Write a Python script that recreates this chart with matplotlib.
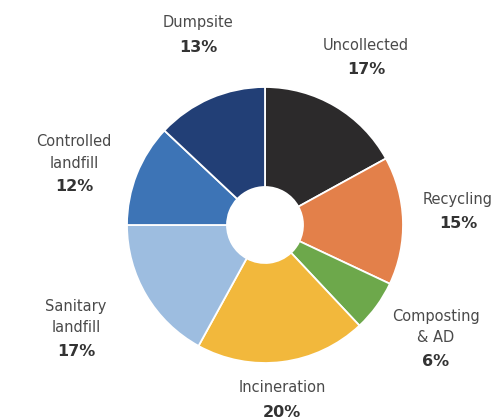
import matplotlib
matplotlib.use("Agg")
import matplotlib.pyplot as plt

# Waste treatment and disposal shares (%)
categories = ["Uncollected", "Recycling", "Composting\n& AD", "Incineration",
              "Sanitary\nlandfill", "Controlled\nlandfill", "Dumpsite"]
shares = [17, 15, 6, 20, 17, 12, 13]
colors = ["#2c2a2b", "#e3804a", "#6da84b", "#f2b83c",
          "#9dbde0", "#3d74b6", "#223f76"]

# Label anchor points in pixel space (x, y from the top), name above value
label_pos = [(366, 45), (458, 200), (436, 317), (282, 388),
             (76, 307), (74, 142), (198, 23)]

W, H = 504, 419
fig = plt.figure(figsize=(W / 100, H / 100), dpi=100)
ax = fig.add_axes([0, 0, 1, 1])

cx, cy, r_out, r_in = 265, H - 225, 138, 38
ax.pie(shares, colors=colors, startangle=90, counterclock=False,
       center=(cx, cy), radius=r_out, frame=True,
       wedgeprops=dict(width=r_out - r_in, edgecolor="white", linewidth=1.3))

ax.set_xlim(0, W)
ax.set_ylim(0, H)
ax.set_aspect("equal")
ax.axis("off")

font = "DejaVu Sans"
name_gap, pct_gap = 21, 24
for name, val, (x, y) in zip(categories, shares, label_pos):
    lines = name.split("\n")
    for i, ln in enumerate(lines):
        ax.text(x, H - (y + i * name_gap), ln, ha="center", va="center",
                fontsize=10.5, color="#4a4a4a", family=font)
    py = y + (len(lines) - 1) * name_gap + pct_gap
    ax.text(x, H - py, f"{val}%", ha="center", va="center",
            fontsize=11.5, fontweight="bold", color="#333333", family=font)

fig.savefig("out.png", dpi=100, facecolor="white")
